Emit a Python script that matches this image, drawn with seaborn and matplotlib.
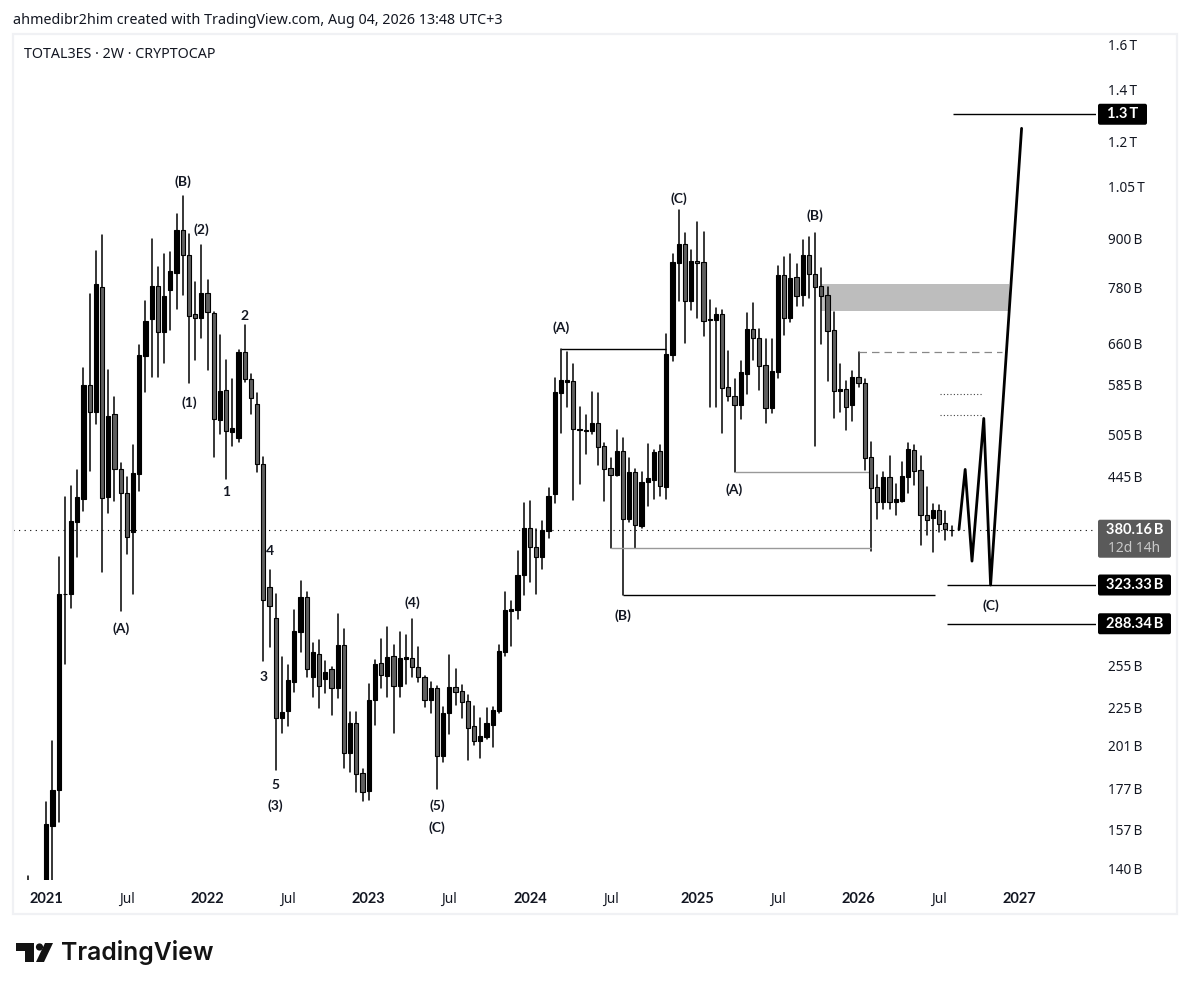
import numpy as np
import pandas as pd
import matplotlib
matplotlib.use("Agg")
import matplotlib.pyplot as plt
from matplotlib.patches import Rectangle, Polygon, Circle, FancyBboxPatch
from matplotlib.ticker import NullLocator
import seaborn as sns

# prices in billions, 2W bars, first bar index is -3
first_bar = -3
opens = [120, 110, 125, 130, 158.6, 176.5, 315, 315, 389.5, 416.5, 584, 539, 780, 419, 536, 455.5, 425, 378, 449, 636, 710,
         782, 684, 773, 813, 923, 857, 720, 712, 766, 722, 526, 575, 508, 500, 644, 595, 552, 462, 321, 293.5, 218, 223,
         243, 281, 312, 246.5, 264, 245, 252, 238.5, 271, 196.5, 215, 185.5, 176, 230, 256.5, 247, 262.5, 240, 259.5, 260.5,
         253.5, 246.5, 230, 238.5, 195, 221.5, 239.5, 236.5, 229.5, 213, 204, 206.5, 214, 222.5, 265, 299.5, 300.5, 333,
         382.5, 362, 351, 379, 423, 570, 589, 591, 511, 510, 510, 521.5, 487, 457.5, 447.5, 480, 393, 451.5, 385, 438, 441.5,
         480, 432, 638, 837.5, 886, 748, 843.5, 839, 707, 707, 720, 581, 566, 550, 604, 690, 671, 619, 545.5, 606, 809, 712,
         804, 762, 857, 811, 782, 762, 688, 574, 577.5, 550, 598, 588, 472, 432, 413, 445, 413, 414, 445, 481.5, 454, 398, 394,
         404, 388, 380.8]
highs = [136.7, 125, 130, 170.5, 204, 351, 420, 433, 454, 614, 764, 868, 910, 610, 564, 463.5, 445, 489, 657, 748, 899,
         828, 860, 865, 968, 1021, 912, 792, 883, 797, 724, 677, 628, 595, 647, 697, 603, 570, 472, 338, 315, 261, 255,
         300.5, 327, 317, 272, 274.5, 258.5, 254, 297, 284, 222, 222, 187.5, 241.5, 259, 275.5, 285.5, 271, 281, 279, 292,
         269.5, 247, 242.5, 240, 225.5, 263, 252, 240.5, 233.5, 226, 218, 225, 225.5, 271, 317, 308.5, 357, 412,
         415, 381, 390.5, 431, 597, 649, 644, 621, 547, 534, 572, 570, 492, 470.5, 511, 499, 470.5, 456, 451.5, 490, 481.5,
         489, 679, 860, 980, 915, 871, 945, 919, 750, 733, 728, 646, 595, 626, 722, 744, 690, 669, 669, 830, 853, 860,
         835, 896, 904, 915, 825, 780, 724, 621, 591, 608, 644, 595, 494, 447.5, 451.5, 473, 436, 464.5, 492, 489, 473, 432, 411,
         410, 402, 385]
lows = [100, 100, 110, 125, 129, 160.5, 256, 302, 351, 402, 453, 521, 336, 400, 415, 299, 354, 315, 427, 572, 598,
        598, 623, 688, 731, 762, 588, 628, 671, 610, 472, 505, 442, 487, 493, 589, 536, 451, 258, 269, 187, 208.5, 213,
        236, 265, 246, 232, 225, 235, 220, 231.5, 188.5, 186, 175.5, 171, 171.5, 214, 238.5, 232.5, 208.5, 232.5, 241.5, 246,
        242.5, 225.5, 221.5, 177, 191.5, 208, 226.5, 218.5, 193, 201.5, 194, 205, 200.5, 221.5, 262, 270, 292.5, 314,
        326, 315, 339, 371.5, 412, 506.5, 547, 415.5, 436, 476, 505, 460.5, 415, 361, 446, 314, 389.5, 361, 382.5, 408, 416.5,
        420.5, 416.5, 626, 748, 661, 728, 712, 675, 547, 548, 506.5, 557, 451.5, 528, 568, 628, 575.5, 521.5, 537.5, 596.5, 677, 703,
        738, 738, 755, 487, 659, 591, 529, 539, 511, 524.5, 581, 454, 358, 393, 405, 405, 398, 413, 425, 434.5, 364, 375, 356,
        378, 369, 374]
closes = [115, 120, 120, 159.5, 176.5, 315, 314.5, 390.5, 419, 584, 539, 787, 418, 533, 455.5, 425, 372.5, 450.5, 638, 705, 782,
          684, 760, 818, 923, 857, 716, 712, 766, 724, 528, 574, 510, 514, 644, 595, 562, 462, 309.5, 304, 218, 222, 244,
          282, 312, 252, 265, 240, 250, 238.5, 271, 196.5, 215, 185, 175.5, 230.5, 256, 247.5, 261, 240, 260.5, 261, 254,
          246.5, 230, 238.5, 195, 221.5, 239.5, 236, 229, 212, 204, 207, 215, 223.5, 266, 300.5, 301.5, 333, 382.5,
          362, 351, 380, 420.5, 572, 593, 593, 512.5, 512.5, 511, 521.5, 486, 455.5, 447.5, 480, 393, 451.5, 386, 439, 443, 479,
          433.5, 640, 839, 886, 748, 843.5, 837, 705, 709, 720, 579, 565, 550, 606, 690, 671, 617, 545.5, 608, 809, 712, 802,
          760, 857, 811, 780, 760, 686, 574, 577.5, 548, 598, 588, 470.5, 431, 413, 445, 413, 416.5, 446.5, 483, 453, 398, 392, 404,
          387, 381, 380.16]

# axis ticks
price_ticks = [1600, 1400, 1200, 1050, 900, 780, 660, 585, 505, 445, 255, 225, 201, 177, 157, 140]
price_labels = ["1.6\u2009T", "1.4\u2009T", "1.2\u2009T", "1.05\u2009T", "900\u2009B", "780\u2009B", "660\u2009B", "585\u2009B",
                "505\u2009B", "445\u2009B", "255\u2009B", "225\u2009B", "201\u2009B", "177\u2009B", "157\u2009B", "140\u2009B"]
time_ticks = [0, 13, 26, 39, 52, 65, 78, 91, 105, 118, 131, 144, 157]
time_labels = ["2021", "Jul", "2022", "Jul", "2023", "Jul", "2024", "Jul", "2025", "Jul", "2026", "Jul", "2027"]

# drawings
forecast_bars = [147.2, 148.2, 149.3, 151.2, 152.3, 157.3]
forecast_prices = [381, 455, 347, 529, 323.33, 1247]
last_price = 380.16
target_prices = [1300, 323.33, 288.34]
wave_names = ["(B)", "(2)", "(1)", "1", "2", "(A)", "4", "3", "5", "(3)", "(4)", "(5)", "(C)", "(A)", "(C)", "(B)", "(A)", "(B)", "(C)"]
wave_bars = [22, 25, 23, 29, 32, 12, 36, 35, 37, 37, 59, 63, 63, 83, 102, 124, 111, 93, 152.3]
wave_prices = [1064, 924, 555, 426, 716, 284, 358, 246, 179, 168.5, 307, 168.5, 158, 691, 1012, 963, 429, 295, 304]

sns.set_theme(style="white")
plt.rcParams["font.family"] = ["Noto Sans", "DejaVu Sans"]
INK = "#131722"
BOLD = ["Lato", "DejaVu Sans"]

fig = plt.figure(figsize=(11.9, 9.9), dpi=100, facecolor="white")
ax = fig.add_axes([13 / 1190, 1 - 880 / 990, 1083 / 1190, 846 / 990])

bars = pd.DataFrame({"bar": np.arange(len(opens)) + first_bar, "open": opens, "high": highs, "low": lows, "close": closes})
bars["top"] = bars[["open", "close"]].max(axis=1)
bars["bottom"] = bars[["open", "close"]].min(axis=1)
bars["height"] = bars["top"] - bars["bottom"]

# wicks
wicks = bars.melt(id_vars="bar", value_vars=["high", "low"], value_name="price")
sns.lineplot(data=wicks, x="bar", y="price", units="bar", estimator=None, color="black", lw=1.1, zorder=2, ax=ax)

# bodies, black up and gray down
rising = bars[bars["close"] >= bars["open"]]
falling = bars[bars["close"] < bars["open"]]
for part, fill in [(rising, "black"), (falling, "#5f5f5f")]:
    sns.barplot(data=part, x="bar", y="height", bottom=part["bottom"].values, native_scale=True, color=fill,
                saturation=1, edgecolor="black", linewidth=0.8, width=0.68, errorbar=None, zorder=3, ax=ax)

ax.set_yscale("log")
ax.set_xlim(-5.37, 169.3)
ax.set_ylim(135.2, 1648)
ax.set_xlabel("")
ax.set_ylabel("")
for side in ax.spines.values():
    side.set_visible(False)

ax.yaxis.tick_right()
ax.set_yticks(price_ticks, price_labels)
ax.yaxis.set_minor_locator(NullLocator())
ax.set_xticks(time_ticks, time_labels)
ax.xaxis.set_minor_locator(NullLocator())
ax.tick_params(axis="y", length=0, pad=8.5, labelsize=9.8, labelcolor=INK)
ax.tick_params(axis="x", length=0, pad=8.5, labelsize=9.8, labelcolor=INK)
for lab in ax.get_xticklabels():
    if lab.get_text().startswith("20"):
        lab.set_fontweight("bold")
        lab.set_family(BOLD)
        lab.set_fontsize(10.5)

# zone, levels and forecast path
ax.fill_between([125, 155.3], 726, 787, color="#bdbdbd", lw=0, zorder=1)
ax.hlines(649, 83, 100, color="black", lw=1, zorder=2)
ax.hlines(361, 91, 133, color="#999999", lw=1, zorder=2)
ax.hlines(314, 93, 143.3, color="black", lw=1, zorder=2)
ax.hlines(451.5, 111, 133, color="#999999", lw=1, zorder=2)
ax.hlines(644, 131, 154.2, color="#888888", lw=0.9, linestyles=(0, (6, 4)), zorder=2)
ax.hlines([568, 534], 144.2, 151, color="#444444", lw=0.8, linestyles=(0, (1, 2)), zorder=2)
ax.axhline(last_price, color="black", lw=0.8, linestyle=(0, (1, 4)), zorder=1)
ax.hlines(target_prices[0], 146.2, 169.3, color="black", lw=1, zorder=2)
ax.hlines(target_prices[1:], 145.2, 169.3, color="black", lw=1, zorder=2)
sns.lineplot(x=forecast_bars, y=forecast_prices, sort=False, estimator=None, color="black", lw=2, zorder=4, ax=ax)

for name, b, p in zip(wave_names, wave_bars, wave_prices):
    ax.text(b, p, name, ha="center", va="center", fontsize=10, fontweight="bold", color=INK, zorder=5, family=BOLD)

# full figure layer in pixels for frame, tags and logo
over = fig.add_axes([0, 0, 1, 1], zorder=10)
over.set_xlim(0, 1190)
over.set_ylim(990, 0)
over.axis("off")
over.patch.set_visible(False)
over.add_patch(Rectangle((13, 34), 1164, 880, fill=False, ec="#f0f1f4", lw=1.6))


def price_y(price):
    return 990 - ax.transData.transform((0, price))[1]


def tag(price, text, width, fill="black", above=10.5, below=10.5, sub=None):
    y = price_y(price)
    over.add_patch(FancyBboxPatch((1098, y - above), width, above + below, boxstyle="round,pad=0,rounding_size=2",
                                  fc=fill, ec="none"))
    over.text(1098 + width / 2, y, text, ha="center", va="center", color="white", fontsize=10.5, fontweight="bold", family=BOLD)
    if sub:
        over.text(1098 + width / 2, y + 18, sub, ha="center", va="center", color="#c9c9c9", fontsize=10)


tag(target_prices[0], "1.3\u2009T", 49)
tag(last_price, "380.16\u2009B", 73, fill="#5a5a5a", above=10.5, below=27.5, sub="12d 14h")
tag(target_prices[1], "323.33\u2009B", 73)
tag(target_prices[2], "288.34\u2009B", 73)

over.text(13, 20, "ahmedibr2him created with TradingView.com, Aug 04, 2026 13:48 UTC+3", ha="left", va="center",
          fontsize=10.25, color=INK)
over.text(24, 55, "TOTAL3ES \u00b7 2W \u00b7 CRYPTOCAP", ha="left", va="center", fontsize=10.25, color=INK)

# logo
over.add_patch(Polygon([(16, 943), (33.5, 943), (33.5, 962), (25, 962), (25, 950.5), (16, 950.5)], fc="#131313", ec="none"))
over.add_patch(Circle((39.5, 947), 3.6, fc="#131313", ec="none"))
over.add_patch(Polygon([(45, 943), (53, 943), (44, 962), (36, 962)], fc="#131313", ec="none"))
over.text(61, 952.5, "TradingView", ha="left", va="center", fontsize=17.8, fontweight="semibold", color="#131313",
          family=["Inter", "DejaVu Sans"])

fig.savefig("out.png", dpi=100, facecolor="white")
